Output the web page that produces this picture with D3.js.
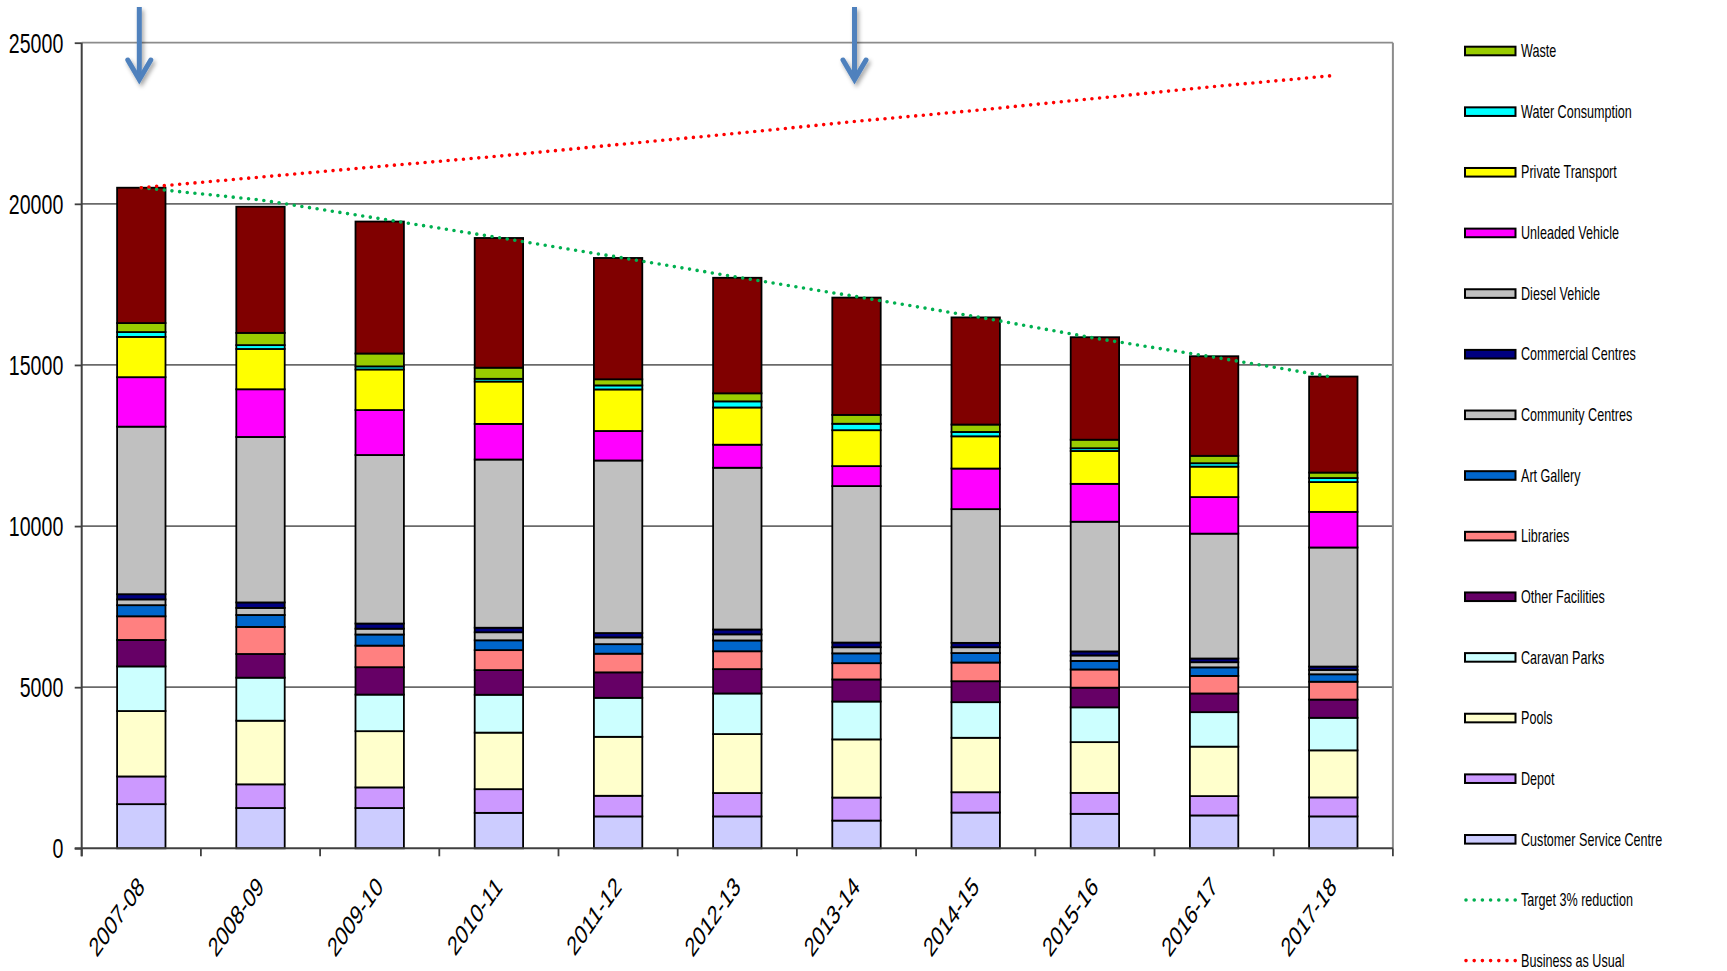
<!DOCTYPE html>
<html lang="en">
<head>
<meta charset="UTF-8">
<title>Emissions by source 2007-08 to 2017-18</title>
<script src="https://d3js.org/d3.v7.min.js"></script>
<style>
    body { margin: 0; background: #fff; }
    text { font-family: "Liberation Sans", Arial, sans-serif; fill: #000; }
</style>
</head>
<body>
<div id="chart"></div>
<script>
    // ---- data ----
    const years = ["2007-08", "2008-09", "2009-10", "2010-11", "2011-12", "2012-13",
                   "2013-14", "2014-15", "2015-16", "2016-17", "2017-18"];

    // stacked from the bottom up
    const customerService = [1370, 1250, 1250, 1100, 990, 990, 860, 1110, 1070, 1020, 990];
    const depot           = [860, 735, 640, 735, 640, 725, 715, 630, 650, 600, 590];
    const pools           = [2030, 1975, 1745, 1755, 1830, 1830, 1805, 1690, 1575, 1535, 1460];
    const caravanParks    = [1385, 1335, 1135, 1175, 1210, 1260, 1175, 1105, 1080, 1070, 1010];
    const otherFacilities = [820, 735, 850, 765, 790, 755, 685, 650, 610, 580, 565];
    const libraries       = [735, 840, 670, 620, 580, 555, 505, 580, 565, 545, 555];
    const artGallery      = [345, 370, 345, 305, 295, 335, 305, 295, 265, 265, 230];
    const communityCentres  = [180, 220, 180, 250, 210, 190, 190, 180, 170, 160, 135];
    const commercialCentres = [160, 170, 160, 140, 135, 150, 145, 135, 125, 115, 105];
    const dieselVehicle   = [5200, 5135, 5230, 5220, 5355, 5020, 4855, 4150, 4025, 3875, 3695];
    const unleadedVehicle = [1535, 1480, 1395, 1105, 915, 715, 620, 1260, 1175, 1135, 1105];
    const privateTransport = [1250, 1250, 1260, 1315, 1290, 1155, 1115, 1000, 1020, 945, 925];
    const waterConsumption = [150, 120, 95, 85, 125, 190, 200, 135, 85, 105, 125];
    const waste           = [280, 380, 400, 345, 190, 250, 275, 230, 265, 230, 170];
    const electricity     = [4200, 3915, 4095, 4025, 3765, 3585, 3640, 3325, 3180, 3090, 2980];

    const target3pc       = [20500, 20120, 19540, 18950, 18345, 17725, 17120, 16500, 15830, 15240, 14620];
    const businessAsUsual = [20500, 20830, 21160, 21480, 21840, 22190, 22560, 22900, 23270, 23640, 23980];

    const yTicks = [0, 5000, 10000, 15000, 20000, 25000];
    const arrowYears = ["2007-08", "2013-14"];

    const series = [
        { key: "Customer Service Centre", values: customerService, color: "#CCCCFF" },
        { key: "Depot", values: depot, color: "#CC99FF" },
        { key: "Pools", values: pools, color: "#FFFFCC" },
        { key: "Caravan Parks", values: caravanParks, color: "#CCFFFF" },
        { key: "Other Facilities", values: otherFacilities, color: "#660066" },
        { key: "Libraries", values: libraries, color: "#FF8080" },
        { key: "Art Gallery", values: artGallery, color: "#0066CC" },
        { key: "Community Centres", values: communityCentres, color: "#C0C0C0" },
        { key: "Commercial Centres", values: commercialCentres, color: "#000080" },
        { key: "Diesel Vehicle", values: dieselVehicle, color: "#C0C0C0" },
        { key: "Unleaded Vehicle", values: unleadedVehicle, color: "#FF00FF" },
        { key: "Private Transport", values: privateTransport, color: "#FFFF00" },
        { key: "Water Consumption", values: waterConsumption, color: "#00FFFF" },
        { key: "Waste", values: waste, color: "#99CC00" },
        { key: "Electricity", values: electricity, color: "#800000", noLegend: true }
    ];
    const lines = [
        { key: "Target 3% reduction", values: target3pc, color: "#00B050" },
        { key: "Business as Usual", values: businessAsUsual, color: "#FF0000" }
    ];

    // ---- layout ----
    const w = 1727;
    const h = 971;
    const plotLeft = 81.7;
    const plotRight = 1392.9;
    const plotTop = 42.7;
    const plotBottom = 848.3;
    const squeeze = 0.7;   // text in the reference is horizontally compressed

    const rows = years.map((y, i) => {
        const r = { year: y };
        series.forEach(s => { r[s.key] = s.values[i]; });
        return r;
    });
    const stacked = d3.stack().keys(series.map(s => s.key))(rows);

    const xScale = d3.scaleBand()
                    .domain(years)
                    .range([plotLeft, plotRight])
                    .paddingInner(0.594)
                    .paddingOuter(0.297);
    const yScale = d3.scaleLinear()
                    .domain([0, 25000])
                    .range([plotBottom, plotTop]);
    const cx = d => xScale(d) + xScale.bandwidth() / 2;

    const svg = d3.select('#chart')
                .append('svg')
                .attr('width', w)
                .attr('height', h);

    const defs = svg.append('defs');
    defs.append('filter')
        .attr('id', 'shadow')
        .attr('x', '-50%').attr('y', '-20%')
        .attr('width', '200%').attr('height', '150%')
        .append('feDropShadow')
        .attr('dx', 2).attr('dy', 3)
        .attr('stdDeviation', 2)
        .attr('flood-color', '#000')
        .attr('flood-opacity', 0.35);

    // gridlines
    svg.append('g')
        .selectAll('line')
        .data(yTicks.filter(d => d > 0))
        .enter()
        .append('line')
        .attr('x1', plotLeft)
        .attr('x2', plotRight)
        .attr('y1', d => yScale(d))
        .attr('y2', d => yScale(d))
        .style('stroke', d => d === 25000 ? '#8c8c8c' : '#6a6a6a')
        .style('stroke-width', '1.8px');

    svg.append('line')
        .attr('x1', plotRight).attr('x2', plotRight)
        .attr('y1', plotTop).attr('y2', plotBottom)
        .style('stroke', '#8c8c8c')
        .style('stroke-width', '2px');

    // stacked bars
    svg.append('g')
        .selectAll('g')
        .data(stacked)
        .enter()
        .append('g')
        .attr('fill', (d, i) => series[i].color)
        .selectAll('rect')
        .data(d => d)
        .enter()
        .append('rect')
        .attr('x', d => xScale(d.data.year))
        .attr('y', d => yScale(d[1]))
        .attr('width', xScale.bandwidth())
        .attr('height', d => yScale(d[0]) - yScale(d[1]))
        .style('stroke', '#000')
        .style('stroke-width', '1.8px');

    // y axis
    const yAxis = d3.axisLeft(yScale).tickValues(yTicks).tickSize(7).tickFormat(d3.format('d'));
    const yG = svg.append('g')
        .attr('transform', 'translate(' + plotLeft + ', 0)')
        .call(yAxis);
    yG.select('.domain').remove();
    yG.selectAll('.tick line').style('stroke', '#404040').style('stroke-width', '1.8px');
    yG.selectAll('.tick text')
        .attr('x', null)
        .attr('dy', '0.34em')
        .attr('transform', 'translate(-18.4, 0) scale(' + squeeze + ', 1)')
        .style('font-size', '28px')
        .style('font-family', '"Liberation Sans", Arial, sans-serif')
        .style('fill', '#000');

    svg.append('line')
        .attr('x1', plotLeft).attr('x2', plotLeft)
        .attr('y1', plotTop).attr('y2', plotBottom + 8)
        .style('stroke', '#404040')
        .style('stroke-width', '2px');

    // x axis
    svg.append('line')
        .attr('x1', plotLeft - 7).attr('x2', plotRight)
        .attr('y1', plotBottom).attr('y2', plotBottom)
        .style('stroke', '#404040')
        .style('stroke-width', '2px');

    const step = xScale.step();
    svg.append('g')
        .selectAll('line')
        .data(years.concat(['end']))
        .enter()
        .append('line')
        .attr('x1', (d, i) => plotLeft + i * step)
        .attr('x2', (d, i) => plotLeft + i * step)
        .attr('y1', plotBottom)
        .attr('y2', plotBottom + 8)
        .style('stroke', '#404040')
        .style('stroke-width', '1.8px');

    svg.append('g')
        .selectAll('text')
        .data(years)
        .enter()
        .append('text')
        .attr('transform', d => 'translate(' + (cx(d) + 4.5) + ',' + (plotBottom + 40) + ') scale(' + squeeze + ',1) rotate(-45)')
        .attr('text-anchor', 'end')
        .style('font-size', '27px')
        .text(d => d);

    // target / business as usual lines
    const line = d3.line()
                .x(d => cx(d.year))
                .y(d => yScale(d.value));

    svg.append('g')
        .selectAll('path')
        .data(lines)
        .enter()
        .append('path')
        .attr('d', l => line(years.map((y, i) => ({ year: y, value: l.values[i] }))))
        .style('fill', 'none')
        .style('stroke', l => l.color)
        .style('stroke-width', '3.6px')
        .style('stroke-linecap', 'round')
        .style('stroke-dasharray', '0 7.7');

    // blue arrows
    const arrows = svg.append('g')
        .attr('filter', 'url(#shadow)')
        .selectAll('g')
        .data(arrowYears)
        .enter()
        .append('g')
        .attr('transform', d => 'translate(' + (cx(d) - 2) + ', 0)');
    arrows.append('line')
        .attr('x1', 0).attr('x2', 0)
        .attr('y1', 7).attr('y2', 78)
        .style('stroke', '#4F81BD')
        .style('stroke-width', '5px');
    arrows.append('path')
        .attr('d', 'M-11.5,60 L0,79.5 L11.5,60')
        .style('fill', 'none')
        .style('stroke', '#4F81BD')
        .style('stroke-width', '5px')
        .style('stroke-linecap', 'round')
        .style('stroke-linejoin', 'miter');

    // legend
    const legendItems = series.filter(s => !s.noLegend).slice().reverse()
        .map(s => ({ key: s.key, color: s.color, kind: 'box' }))
        .concat(lines.map(l => ({ key: l.key, color: l.color, kind: 'dots' })));

    const legend = svg.append('g')
        .selectAll('g')
        .data(legendItems)
        .enter()
        .append('g')
        .attr('transform', (d, i) => 'translate(1465,' + (51 + i * 60.64) + ')');

    legend.filter(d => d.kind === 'box')
        .append('rect')
        .attr('x', 0)
        .attr('y', -4.3)
        .attr('width', 50.5)
        .attr('height', 8.6)
        .attr('fill', d => d.color)
        .style('stroke', '#000')
        .style('stroke-width', '2px');

    legend.filter(d => d.kind === 'dots')
        .append('line')
        .attr('x1', 1).attr('x2', 50.5)
        .attr('y1', 0).attr('y2', 0)
        .style('stroke', d => d.color)
        .style('stroke-width', '3.6px')
        .style('stroke-linecap', 'round')
        .style('stroke-dasharray', '0 8.2');

    legend.append('text')
        .attr('transform', 'translate(56, 6.2) scale(' + squeeze + ', 1)')
        .style('font-size', '18px')
        .text(d => d.key);
</script>
</body>
</html>
